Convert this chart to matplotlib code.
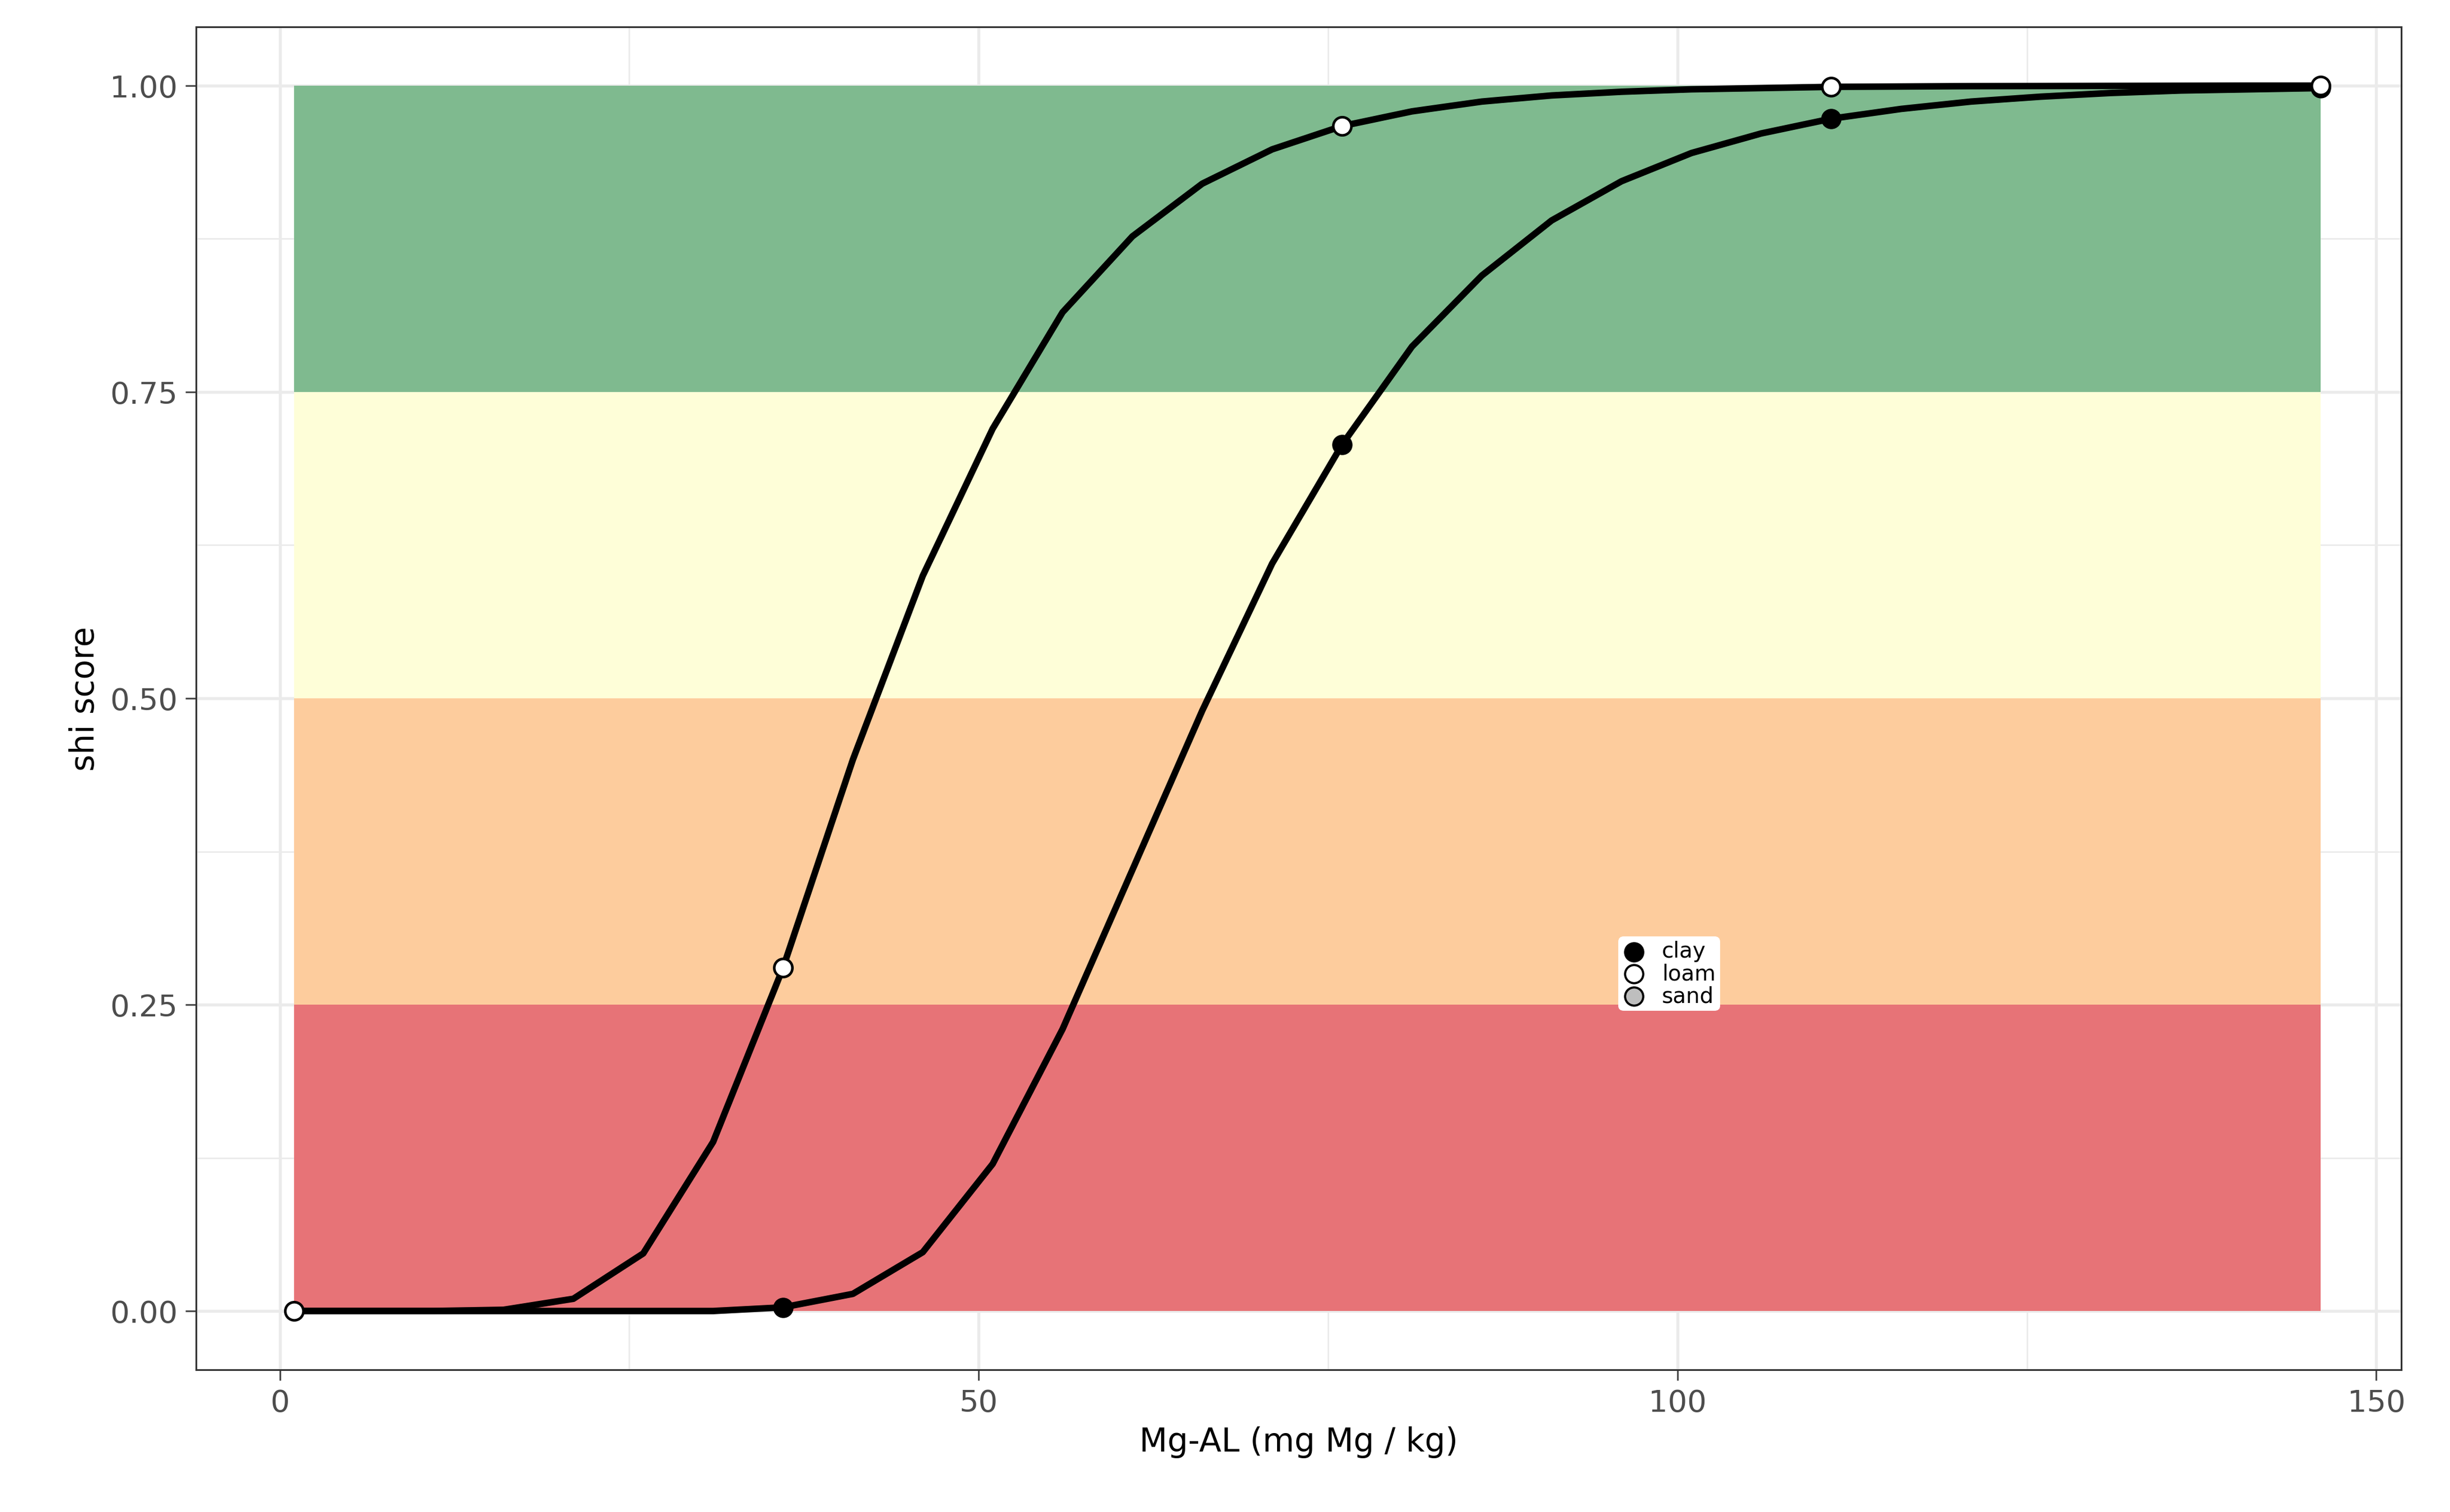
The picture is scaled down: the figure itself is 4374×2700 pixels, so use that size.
import matplotlib
matplotlib.use("Agg")
import matplotlib.pyplot as plt

x = list(range(1, 147, 5))
loam = [0, 0, 0, 0.001, 0.01, 0.047, 0.138, 0.28, 0.45, 0.60, 0.72, 0.815, 0.877, 0.92, 0.948,
        0.967, 0.979, 0.987, 0.992, 0.995, 0.997, 0.998, 0.999, 0.9993, 0.9996, 0.9997, 0.9998, 0.9999, 1.0, 1.0]
clay = [0, 0, 0, 0, 0, 0, 0, 0.003, 0.014, 0.048, 0.12, 0.23, 0.36, 0.49, 0.61,
        0.707, 0.787, 0.845, 0.89, 0.922, 0.945, 0.961, 0.973, 0.981, 0.987, 0.991, 0.994, 0.996, 0.997, 0.998]
mark_x = [1, 36, 76, 111, 146]
bands = [(0, 0.25, "#e77377"), (0.25, 0.5, "#fdcc9d"), (0.5, 0.75, "#fefed8"), (0.75, 1.0, "#7fba8f")]

fig = plt.figure(figsize=(15.68, 9.68), dpi=279)
ax = fig.add_axes([0.080, 0.094, 0.900, 0.888])

for lo, hi, c in bands:
    ax.fill_between([1, 146], lo, hi, color=c, lw=0, zorder=1)

ax.plot(x, loam, color="black", lw=3, zorder=3)
ax.plot(x, clay, color="black", lw=3, zorder=3)
ax.scatter([v for v in mark_x[1:]], [clay[x.index(v)] for v in mark_x[1:]], s=70, c="black",
           edgecolors="black", zorder=4)
ax.scatter(mark_x, [loam[x.index(v)] for v in mark_x], s=70, c="white", edgecolors="black",
           linewidths=1.2, zorder=5)

h1 = ax.scatter([], [], s=70, c="black", edgecolors="black", label="clay")
h2 = ax.scatter([], [], s=70, c="white", edgecolors="black", label="loam")
h3 = ax.scatter([], [], s=70, c="#bebebe", edgecolors="black", label="sand")
ax.legend(handles=[h1, h2, h3], loc="center", bbox_to_anchor=(0.668, 0.295), fontsize=10,
          frameon=True, framealpha=1, edgecolor="white", borderpad=0.15, labelspacing=0.05,
          handletextpad=0.8, handlelength=1, borderaxespad=0)

ax.set_xlim(-6, 151.8)
ax.set_ylim(-0.048, 1.048)
ax.set_xticks([0, 50, 100, 150])
ax.set_xticks([25, 75, 125], minor=True)
ax.set_yticks([0, 0.25, 0.5, 0.75, 1.0])
ax.set_yticklabels(["0.00", "0.25", "0.50", "0.75", "1.00"])
ax.set_yticks([0.125, 0.375, 0.625, 0.875], minor=True)
ax.grid(which="major", color="#ebebeb", lw=1.4, zorder=0)
ax.grid(which="minor", color="#ebebeb", lw=0.7, zorder=0)
ax.set_axisbelow(True)
ax.tick_params(which="minor", length=0)
ax.tick_params(which="major", labelsize=14, colors="#4d4d4d", length=5)
for s in ax.spines.values():
    s.set_color("#333333")
ax.set_xlabel("Mg-AL (mg Mg / kg)", fontsize=15)
ax.set_ylabel("shi score", fontsize=15)

fig.savefig("out.png", dpi=279)
